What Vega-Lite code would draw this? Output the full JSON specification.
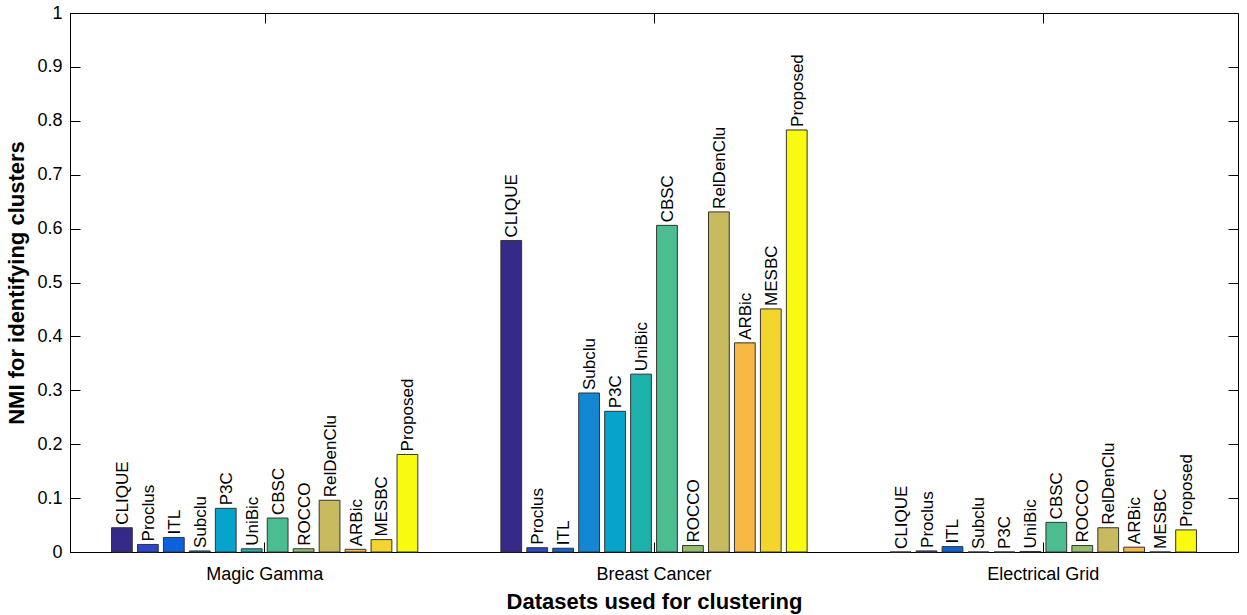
{
  "$schema": "https://vega.github.io/schema/vega-lite/v6.json",
  "width": 1168,
  "height": 539,
  "autosize": {"type": "none"},
  "padding": {"left": 70, "top": 13, "right": 9, "bottom": 63},
  "background": "white",
  "config": {
    "view": {"stroke": "black", "strokeWidth": 1},
    "font": "Liberation Sans",
    "axis": {"grid": false, "domainColor": "black", "tickColor": "black", "labelColor": "black", "titleColor": "black", "labelFont": "Liberation Sans", "titleFont": "Liberation Sans"}
  },
  "data": {
    "values": [
      {"dataset": "Magic Gamma", "method": "CLIQUE", "nmi": 0.045},
      {"dataset": "Magic Gamma", "method": "Proclus", "nmi": 0.014},
      {"dataset": "Magic Gamma", "method": "ITL", "nmi": 0.027},
      {"dataset": "Magic Gamma", "method": "Subclu", "nmi": 0.002},
      {"dataset": "Magic Gamma", "method": "P3C", "nmi": 0.081},
      {"dataset": "Magic Gamma", "method": "UniBic", "nmi": 0.006},
      {"dataset": "Magic Gamma", "method": "CBSC", "nmi": 0.063},
      {"dataset": "Magic Gamma", "method": "ROCCO", "nmi": 0.006},
      {"dataset": "Magic Gamma", "method": "RelDenClu", "nmi": 0.096},
      {"dataset": "Magic Gamma", "method": "ARBic", "nmi": 0.005},
      {"dataset": "Magic Gamma", "method": "MESBC", "nmi": 0.023},
      {"dataset": "Magic Gamma", "method": "Proposed", "nmi": 0.181},
      {"dataset": "Breast Cancer", "method": "CLIQUE", "nmi": 0.578},
      {"dataset": "Breast Cancer", "method": "Proclus", "nmi": 0.008},
      {"dataset": "Breast Cancer", "method": "ITL", "nmi": 0.007},
      {"dataset": "Breast Cancer", "method": "Subclu", "nmi": 0.295},
      {"dataset": "Breast Cancer", "method": "P3C", "nmi": 0.261},
      {"dataset": "Breast Cancer", "method": "UniBic", "nmi": 0.33},
      {"dataset": "Breast Cancer", "method": "CBSC", "nmi": 0.606},
      {"dataset": "Breast Cancer", "method": "ROCCO", "nmi": 0.012},
      {"dataset": "Breast Cancer", "method": "RelDenClu", "nmi": 0.631},
      {"dataset": "Breast Cancer", "method": "ARBic", "nmi": 0.388},
      {"dataset": "Breast Cancer", "method": "MESBC", "nmi": 0.451},
      {"dataset": "Breast Cancer", "method": "Proposed", "nmi": 0.783},
      {"dataset": "Electrical Grid", "method": "CLIQUE", "nmi": 0},
      {"dataset": "Electrical Grid", "method": "Proclus", "nmi": 0.002},
      {"dataset": "Electrical Grid", "method": "ITL", "nmi": 0.01},
      {"dataset": "Electrical Grid", "method": "Subclu", "nmi": 0},
      {"dataset": "Electrical Grid", "method": "P3C", "nmi": 0},
      {"dataset": "Electrical Grid", "method": "UniBic", "nmi": 0.001},
      {"dataset": "Electrical Grid", "method": "CBSC", "nmi": 0.055},
      {"dataset": "Electrical Grid", "method": "ROCCO", "nmi": 0.012},
      {"dataset": "Electrical Grid", "method": "RelDenClu", "nmi": 0.045},
      {"dataset": "Electrical Grid", "method": "ARBic", "nmi": 0.009},
      {"dataset": "Electrical Grid", "method": "MESBC", "nmi": 0},
      {"dataset": "Electrical Grid", "method": "Proposed", "nmi": 0.041}
    ]
  },
  "layer": [
    {
      "layer": [
        {
          "mark": {"type": "bar", "stroke": "#333333", "strokeWidth": 1},
          "encoding": {
            "x": {
              "field": "dataset", "type": "nominal",
              "scale": {"domain": ["Magic Gamma", "Breast Cancer", "Electrical Grid"], "paddingInner": 0.2, "paddingOuter": 0.1},
              "axis": {"title": "Datasets used for clustering", "labelAngle": 0, "labelFontSize": 18, "tickSize": -10, "labelPadding": 23, "titleFontSize": 22, "titleFontWeight": "bold", "titlePadding": 8}
            },
            "xOffset": {
              "field": "method", "type": "nominal",
              "scale": {"domain": ["CLIQUE", "Proclus", "ITL", "Subclu", "P3C", "UniBic", "CBSC", "ROCCO", "RelDenClu", "ARBic", "MESBC", "Proposed"], "paddingInner": 0.2, "paddingOuter": 0.1}
            },
            "y": {
              "field": "nmi", "type": "quantitative",
              "scale": {"domain": [0, 1], "nice": false},
              "axis": {"title": "NMI for identifying clusters", "values": [0, 0.1, 0.2, 0.3, 0.4, 0.5, 0.6, 0.7, 0.8, 0.9, 1], "format": "~g", "labelFontSize": 18, "tickSize": -10, "labelPadding": 18, "titleFontSize": 22, "titleFontWeight": "bold", "titlePadding": 8}
            },
            "color": {
              "field": "method", "type": "nominal",
              "scale": {"domain": ["CLIQUE", "Proclus", "ITL", "Subclu", "P3C", "UniBic", "CBSC", "ROCCO", "RelDenClu", "ARBic", "MESBC", "Proposed"],
                        "range": ["#352a87", "#2b47cb", "#0c62dd", "#1387d4", "#06a4ca", "#1cb1ab", "#4cbd91", "#93bf6c", "#c8ba5f", "#f7b845", "#f4d52b", "#f8fa0f"]},
              "legend": null
            }
          }
        },
        {
          "mark": {"type": "text", "angle": 270, "align": "left", "baseline": "middle", "dx": 3, "dy": 1, "fontSize": 17, "font": "Liberation Sans", "color": "black"},
          "encoding": {
            "x": {"field": "dataset", "type": "nominal"},
            "xOffset": {"field": "method", "type": "nominal"},
            "y": {"field": "nmi", "type": "quantitative"},
            "text": {"field": "method"}
          }
        }
      ]
    },
    {
      "mark": {"type": "point", "opacity": 0},
      "encoding": {
        "x": {
          "field": "dataset", "type": "nominal",
          "scale": {"domain": ["Magic Gamma", "Breast Cancer", "Electrical Grid"], "paddingInner": 0.2, "paddingOuter": 0.1},
          "axis": {"orient": "top", "labels": false, "title": null, "tickSize": -10, "domain": false}
        },
        "y": {
          "field": "nmi", "type": "quantitative",
          "scale": {"domain": [0, 1], "nice": false},
          "axis": {"orient": "right", "labels": false, "title": null, "tickSize": -10, "domain": false, "values": [0, 0.1, 0.2, 0.3, 0.4, 0.5, 0.6, 0.7, 0.8, 0.9, 1]}
        }
      }
    }
  ],
  "resolve": {"scale": {"x": "independent", "y": "independent"}}
}
